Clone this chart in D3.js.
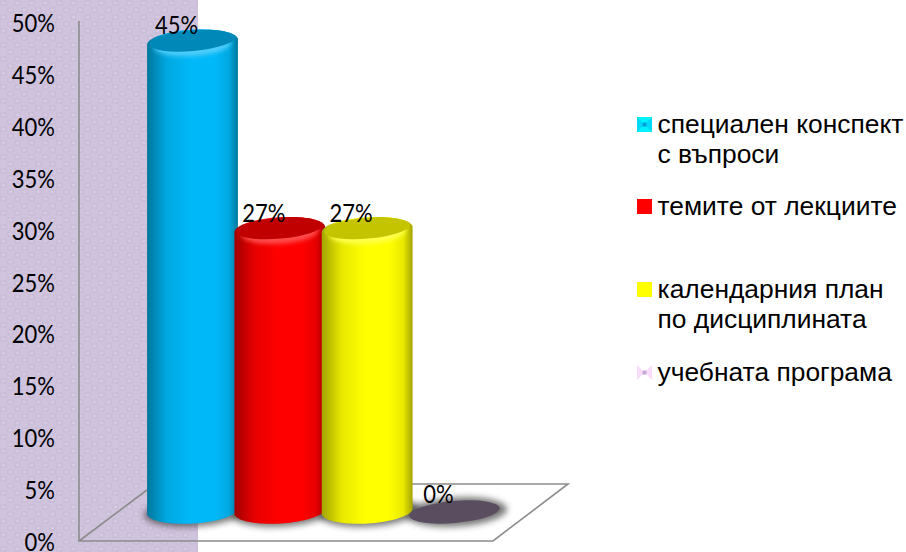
<!DOCTYPE html>
<html>
<head>
<meta charset="utf-8">
<script src="https://cdn.jsdelivr.net/npm/d3@7"></script>
<style>
  html, body { margin: 0; padding: 0; background: #fff; }
  svg { display: block; }
</style>
</head>
<body>
<svg id="chart" width="906" height="552"></svg>
<script>
const categories = ["специален конспект", "темите от лекциите", "календарния план", "учебната програма"];
const values = [45, 27, 27, 0];
const valueLabels = ["45%", "27%", "27%", "0%"];
const tickValues = [0, 5, 10, 15, 20, 25, 30, 35, 40, 45, 50];
const sideColors = ["#00b8f8", "#ff0000", "#ffff00", "#5a4d60"];
const edgeColors = ["#00789c", "#a00000", "#a4a400", "#5a4d60"];
const topColors = ["#0088b8", "#c00000", "#c4c400", "#5a4d60"];
const legendLines = [["специален конспект", "с въпроси"], ["темите от лекциите"], ["календарния план", "по дисциплината"], ["учебната програма"]];
const legendY = [117, 199, 282, 365];

const svg = d3.select("#chart");
const defs = svg.append("defs");

// purple textured strip on the left
const pat = defs.append("pattern").attr("id", "tex").attr("width", 14).attr("height", 14).attr("patternUnits", "userSpaceOnUse");
pat.append("rect").attr("width", 14).attr("height", 14).attr("fill", "#d0c3de");
[[1, 1], [8, 8]].forEach(p => {
  pat.append("rect").attr("x", p[0]).attr("y", p[1]).attr("width", 5).attr("height", 4)
    .attr("fill", "#d6cae3").attr("stroke", "#c6b9d4").attr("stroke-width", 1);
});
svg.append("rect").attr("width", 198).attr("height", 552).attr("fill", "url(#tex)");

const addBlur = (id, sd) => defs.append("filter").attr("id", id)
  .attr("x", "-30%").attr("y", "-80%").attr("width", "160%").attr("height", "260%")
  .append("feGaussianBlur").attr("stdDeviation", sd);
addBlur("blur", 3);
addBlur("soft", 2);

// scales
const yAxisScale = d3.scaleLinear().domain([0, 50]).range([541.5, 22.5]);
const yBar = d3.scaleLinear().domain([0, 50]).range([511, -10]);
const x = d3.scalePoint().domain(categories).range([192.5, 454.5]);
const rx = 45.5, ry = 12.5, tilt = -3.5;
const squeeze = 0.88;

// walls and floor
const wall = svg.append("g").attr("fill", "none").attr("stroke", "#8c8c8c").attr("stroke-width", 1.6);
wall.append("path").attr("d", d3.line()([[79, 21], [79, 541], [493, 541], [568, 484], [147, 484]]));
wall.append("path").attr("d", d3.line()([[79, 541], [147, 490]]));

// axis labels
const axis = d3.axisLeft(yAxisScale).tickValues(tickValues).tickSize(0).tickFormat(d => d + "%");
const axisG = svg.append("g").attr("transform", `translate(55,0) scale(${squeeze},1)`).call(axis);
axisG.select(".domain").remove();
axisG.selectAll("text").attr("x", 0).attr("dy", "0.36em").attr("fill", "#000")
  .style("font-family", "Lato").style("font-size", "25px");

// shadows
svg.append("g").selectAll("ellipse").data(categories).join("ellipse")
  .attr("transform", d => `translate(${x(d) + 2},${yBar(0) + 1}) rotate(${tilt})`)
  .attr("rx", rx + 5).attr("ry", ry + 2).attr("fill", "#3c3c3c").attr("opacity", 0.7).attr("filter", "url(#blur)");

// one gradient per cylinder
categories.forEach((c, i) => {
  const mix = d3.interpolateRgb(edgeColors[i], sideColors[i]);
  const g = defs.append("linearGradient").attr("id", "side" + i);
  g.append("stop").attr("offset", "0%").attr("stop-color", edgeColors[i]);
  g.append("stop").attr("offset", "22%").attr("stop-color", mix(0.75));
  g.append("stop").attr("offset", "48%").attr("stop-color", sideColors[i]);
  g.append("stop").attr("offset", "74%").attr("stop-color", sideColors[i]);
  g.append("stop").attr("offset", "90%").attr("stop-color", mix(0.75));
  g.append("stop").attr("offset", "100%").attr("stop-color", edgeColors[i]);
});

// half of a tilted ellipse, sampled from angle t0 to angle t1
const a = tilt * Math.PI / 180;
const halfEllipse = (cx, cy, t0, t1) => d3.range(0, 41).map(k => {
  const t = t0 + (t1 - t0) * k / 40;
  return [cx + rx * Math.cos(t) * Math.cos(a) - ry * Math.sin(t) * Math.sin(a),
          cy + rx * Math.cos(t) * Math.sin(a) + ry * Math.sin(t) * Math.cos(a)];
});

// cylinders, drawn left to right so each overlaps the one before
const bars = svg.append("g").selectAll("g").data(categories.map((c, i) => ({ c, i, v: values[i] }))).join("g");
bars.each(function (d) {
  const g = d3.select(this), cx = x(d.c), top = yBar(d.v), base = yBar(0);
  if (d.v === 0) {
    g.append("ellipse").attr("transform", `translate(${cx},${base + 1}) rotate(-5)`)
      .attr("rx", rx).attr("ry", ry - 1.5).attr("fill", topColors[d.i]);
    return;
  }
  const shape = d3.line()(halfEllipse(cx, base, Math.PI, 0).concat(halfEllipse(cx, top, 0, -Math.PI))) + "Z";
  defs.append("clipPath").attr("id", "clip" + d.i).append("path").attr("d", shape);
  g.append("path").attr("d", shape).attr("fill", `url(#side${d.i})`);
  // soft lit rim under the top face
  const inner = g.append("g").attr("clip-path", `url(#clip${d.i})`);
  inner.append("ellipse").attr("transform", `translate(${cx},${top + 2.5}) rotate(${tilt})`)
    .attr("rx", rx - 7).attr("ry", ry - 1).attr("fill", d3.interpolateRgb(sideColors[d.i], "#fff")(0.3))
    .attr("filter", "url(#soft)");
  inner.append("ellipse").attr("transform", `translate(${cx},${top - 1.5}) rotate(-5)`)
    .attr("rx", rx - 2.5).attr("ry", ry - 2).attr("fill", topColors[d.i]);
});

// value labels
svg.append("g").selectAll("text").data(categories).join("text")
  .attr("transform", (d, i) => `translate(${x(d) - 16},${yBar(values[i]) - 8}) scale(${squeeze},1)`)
  .attr("text-anchor", "middle").attr("fill", "#000")
  .style("font-family", "Lato").style("font-size", "25px")
  .text((d, i) => valueLabels[i]);

// legend
const legend = svg.append("g").selectAll("g").data(categories).join("g")
  .attr("transform", (d, i) => `translate(637,${legendY[i]})`);
legend.each(function (d, i) {
  const g = d3.select(this);
  if (i === 0) {
    g.append("rect").attr("width", 15).attr("height", 15).attr("fill", "#00d8f8");
    g.append("path").attr("d", "M0,0 L15,0 L7.5,7.5 Z M0,15 L15,15 L7.5,7.5 Z").attr("fill", "#00f4ff");
    g.append("rect").attr("x", 5.5).attr("y", 5.5).attr("width", 4).attr("height", 4).attr("fill", "#00a0d8");
  } else if (i === 3) {
    g.append("path").attr("d", "M0,0 L7.5,7.5 L15,0 L15,15 L7.5,7.5 L0,15 Z").attr("fill", "#f8dcfa");
    g.append("rect").attr("x", 5.5).attr("y", 5.5).attr("width", 4).attr("height", 4).attr("fill", "#c8a8d8");
  } else {
    g.append("rect").attr("width", 15).attr("height", 15).attr("fill", sideColors[i]);
  }
  legendLines[i].forEach((t, k) => {
    g.append("text").attr("x", 20.5).attr("y", 16 + k * 30).attr("fill", "#000")
      .style("font-family", "Liberation Sans").style("font-size", "26.4px").text(t);
  });
});
</script>
</body>
</html>
